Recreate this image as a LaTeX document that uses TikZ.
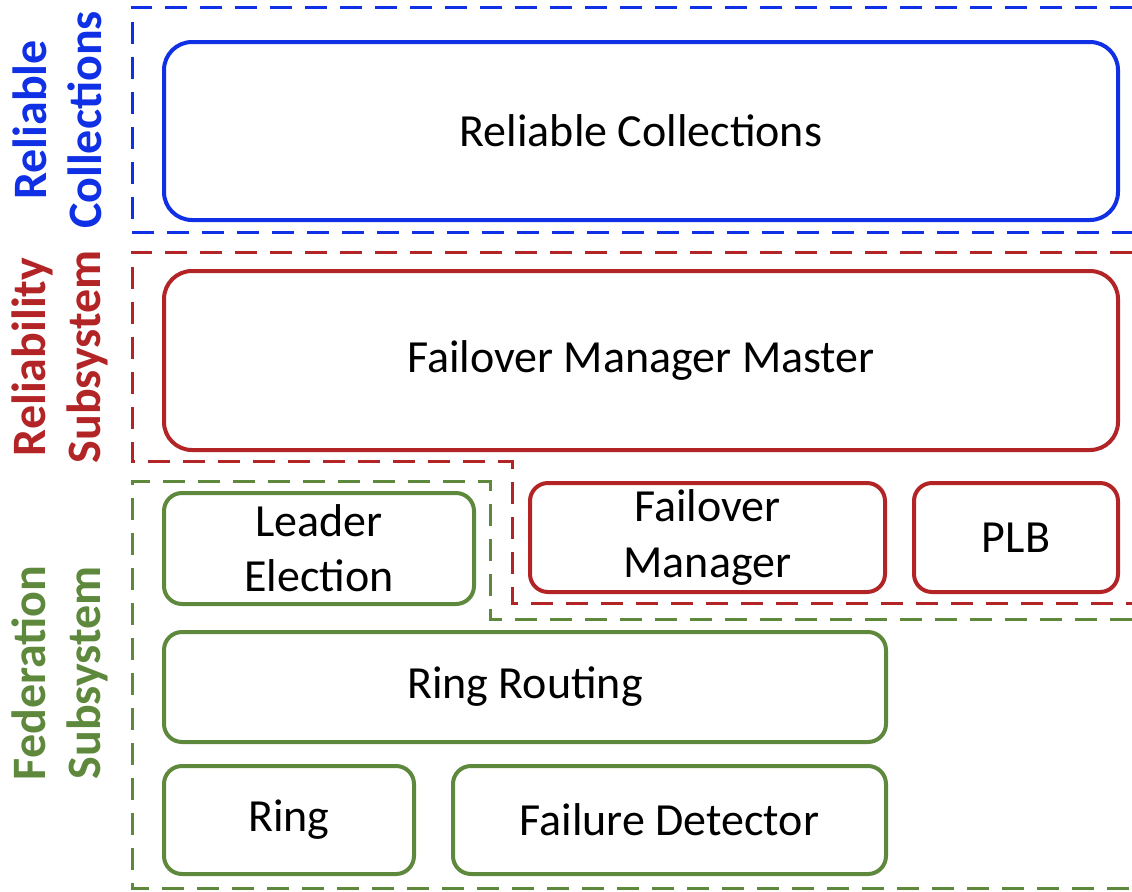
\documentclass[tikz,border=0pt]{standalone}
\usepackage{fontspec}
\setmainfont{Carlito}
\definecolor{rcblue}{RGB}{16,48,230}
\definecolor{rsred}{RGB}{178,36,38}
\definecolor{fsgreen}{RGB}{94,136,60}
\tikzset{
  comp/.style={draw, rounded corners=9pt, line width=2pt, inner sep=0pt, font=\fontsize{23}{27.6}\selectfont, align=center, text=black},
  bigcomp/.style={comp, rounded corners=14pt},
  group/.style={line width=1.5pt, dash pattern=on 11pt off 6.5pt},
  grouplabel/.style={rotate=90, font=\bfseries\fontsize{24}{27.5}\selectfont, align=center, inner sep=0pt}
}
\begin{document}
\begin{tikzpicture}[x=0.5pt,y=-0.5pt]
\useasboundingbox (0,0) rectangle (1132,891);
% groups
\draw[group, rcblue] (1132,7) -- (132,7) -- (132,232) -- (1132,232);
\draw[group, rsred] (1132,252) -- (132,252) -- (132,461) -- (512,461) -- (512,603) -- (1132,603);
\draw[group, fsgreen] (1132,619) -- (490,619) -- (490,481) -- (132,481) -- (132,888) -- (1132,888);
% labels
\node[grouplabel, text=rcblue] (lrc) at (57,120) {Reliable\\Collections};
\node[grouplabel, text=rsred] (lrs) at (60,357) {Reliability\\Subsystem};
\node[grouplabel, text=fsgreen] (lfs) at (60,673) {Federation\\Subsystem};
% components
\node[bigcomp, draw=rcblue, minimum width=477pt, minimum height=89pt] (rc) at (641,131) {Reliable Collections};
\node[bigcomp, draw=rsred, minimum width=477pt, minimum height=89.5pt] (fmm) at (641,360.5) {Failover Manager Master};
\node[comp, draw=fsgreen, minimum width=155pt, minimum height=55.5pt] (le) at (319,548.5) {Leader\\Election};
\node[comp, draw=rsred, minimum width=177.5pt, minimum height=54.5pt] (fm) at (707.5,537.5) {Failover\\Manager};
\node[comp, draw=rsred, minimum width=102pt, minimum height=54.5pt] (plb) at (1016,537.5) {PLB};
\node[comp, draw=fsgreen, minimum width=361pt, minimum height=55pt] (rr) at (525,687) {Ring Routing};
\node[comp, draw=fsgreen, minimum width=125pt, minimum height=54pt] (ring) at (289,820) {Ring};
\node[comp, draw=fsgreen, minimum width=216.5pt, minimum height=54pt] (fd) at (669.5,820) {Failure Detector};
\end{tikzpicture}
\end{document}
